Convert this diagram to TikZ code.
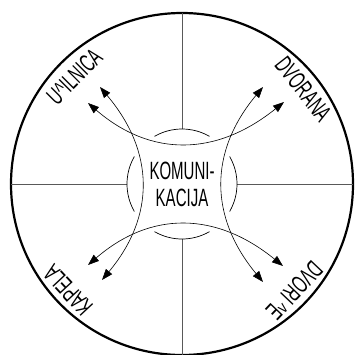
\documentclass[tikz,border=0pt]{standalone}
\usepackage{fontspec}
\setmainfont{Liberation Sans}[FakeStretch=0.6]
\newcommand\lblfont{\fontsize{25}{27}\selectfont}
\usetikzlibrary{arrows.meta,calc}
\begin{document}
\begin{tikzpicture}[x=1pt,y=1pt,
  lbl/.style={inner sep=0pt,font=\lblfont},
  rim/.style={line width=2.2pt},
  spoke/.style={line width=0.7pt,black!65},
  inarc/.style={line width=0.7pt},
  flow/.style={line width=0.6pt,{Triangle[length=11pt,width=8pt]}-{Triangle[length=11pt,width=8pt]}}]
\useasboundingbox (-182,-170) rectangle (173,184);
\coordinate (c) at (0,0);
\draw[rim] (c) circle (171);
% spokes
\foreach \a/\n in {0/e,90/n,180/w,270/s}{
  \coordinate (in\n) at (\a:55);
  \coordinate (out\n) at (\a:171);
  \draw[spoke] (in\n) -- (out\n);
}
% inner arcs
\foreach \a in {0,90,180,270}{
  \draw[inarc] (\a-30:55) arc[start angle=\a-30,end angle=\a+30,radius=55];
}
% text
\node[lbl,align=center] (kom) at (c) {KOMUNI-\\KACIJA};
\node[lbl,rotate=45] (uc) at (135:152) {U\textasciicircum ILNICA};
\node[lbl,rotate=-52] (dv) at (38:154) {DVORANA};
\node[lbl,rotate=133] (ka) at (223:156) {KAPELA};
\node[lbl,rotate=-133.5] (dvs) at (316.5:155) {DVORI \textasciicircum E};
% arrow tips
\coordinate (t1a) at (-94,81);  \coordinate (t1b) at (102,82);
\coordinate (t2a) at (-82,97);  \coordinate (t2b) at (-80,-96);
\coordinate (t3a) at (81,97);   \coordinate (t3b) at (81,-98);
\coordinate (t4a) at (-94,-81); \coordinate (t4b) at (101,-82);
\foreach \p in {1,2,3,4}{
  \draw[flow] (t\p a) .. controls ($(t\p a)!0.667!(c)$) and ($(t\p b)!0.667!(c)$) .. (t\p b);
}
\end{tikzpicture}
\end{document}
